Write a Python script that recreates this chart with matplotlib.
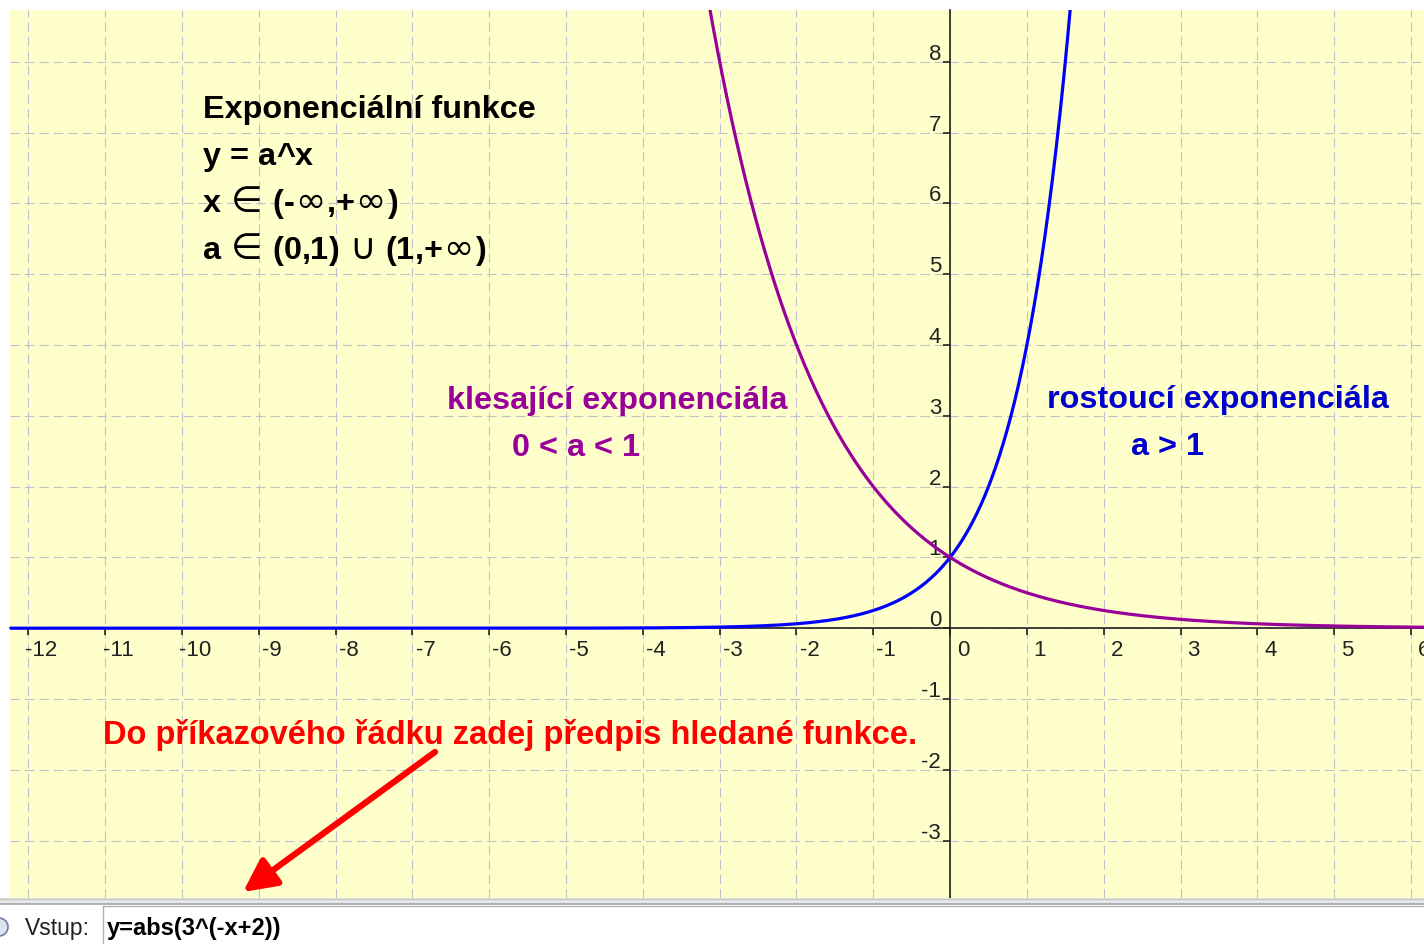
import numpy as np
import matplotlib
matplotlib.use('Agg')
import matplotlib.pyplot as plt
from matplotlib.transforms import offset_copy
from matplotlib.patches import Rectangle, Circle

plt.rcParams['font.family'] = ['Liberation Sans', 'DejaVu Sans']

W, H = 1424, 944

# function bases of the two curves
rising_base = 4
falling_base = 0.5

# visible window and ticks
x_range = (-12.24, 6.17)
y_range = (-3.81, 8.73)
x_ticks = list(range(-12, 7))
y_ticks = list(range(-3, 9))

# texts
info_lines = ['Exponenciální funkce', 'y = a^x', 'x ∈ (-∞,+∞)', 'a ∈ (0,1) ∪ (1,+∞)']
falling_label = ['klesající exponenciála', '0 < a < 1']
rising_label = ['rostoucí exponenciála', 'a > 1']
hint = 'Do příkazového řádku zadej předpis hledané funkce.'
input_label = 'Vstup:'
input_text = 'y=abs(3^(-x+2))'
symbols = '∈∪∞'

fig = plt.figure(figsize=(W / 100, H / 100), dpi=100)
fig.patch.set_facecolor('white')

ax = fig.add_axes([10 / W, 46 / H, 1414 / W, 888 / H])
ax.set_facecolor('#ffffcc')
ax.set_xlim(*x_range)
ax.set_ylim(*y_range)
ax.set_xticks(x_ticks)
ax.set_yticks(y_ticks)
ax.set_axisbelow(True)
ax.grid(True, color='#c0c0cc', lw=0.8, ls=(0, (8.5, 4.5)))
for s in ['top', 'right']:
    ax.spines[s].set_visible(False)
for s in ['left', 'bottom']:
    ax.spines[s].set_position(('data', 0))
    ax.spines[s].set_linewidth(1.2)
    ax.spines[s].set_color('#222222')
ax.tick_params(direction='out', length=5, width=1.2, color='#222222',
               labelbottom=False, labelleft=False)

# axis numbers, GeoGebra style (shifted from the ticks)
xt = offset_copy(ax.transData, fig=fig, x=13, y=-28, units='dots')
for t in x_ticks:
    ax.text(t, 0, str(t), transform=xt, ha='center', va='baseline',
            fontsize=16, color='#222222', clip_on=True)
yt = offset_copy(ax.transData, fig=fig, x=-9, y=2, units='dots')
for t in y_ticks:
    ax.text(0, t, str(t), transform=yt, ha='right', va='baseline',
            fontsize=16, color='#222222', clip_on=True)

xs = np.linspace(x_range[0], x_range[1], 1500)
ax.plot(xs, rising_base ** xs, color='#0000ff', lw=2.3, zorder=4)
ax.plot(xs, falling_base ** xs, color='#990099', lw=2.3, zorder=4)

# overlay in pixel coordinates for texts, arrow and input bar
ov = fig.add_axes([0, 0, 1, 1])
ov.set_xlim(0, W)
ov.set_ylim(H, 0)
ov.axis('off')
renderer = fig.canvas.get_renderer()


def run_text(x, y, s, size, color):
    # math signs come from DejaVu Sans, letters from Liberation Sans bold
    for ch in s:
        if ch in symbols:
            x += 1
            t = ov.text(x, y, ch, fontsize=size * 1.12, family='DejaVu Sans',
                        color=color, va='baseline')
            x += t.get_window_extent(renderer).width + 1
        else:
            t = ov.text(x, y, ch, fontsize=size, fontweight='bold',
                        color=color, va='baseline')
            x += t.get_window_extent(renderer).width


for i, line in enumerate(info_lines):
    if i == 0:
        ov.text(203, 118, line, fontsize=23.3, fontweight='bold', color='black', va='baseline')
    else:
        run_text(203, 118 + 47 * i, line, 23.3, 'black')

ov.text(447, 409, falling_label[0], fontsize=23.3, fontweight='bold', color='#990099', va='baseline')
ov.text(512, 456, falling_label[1], fontsize=23.3, fontweight='bold', color='#990099', va='baseline')
ov.text(1047, 408, rising_label[0], fontsize=23.3, fontweight='bold', color='#0000cc', va='baseline')
ov.text(1131, 455, rising_label[1], fontsize=23.3, fontweight='bold', color='#0000cc', va='baseline')
ov.text(103, 744, hint, fontsize=23.5, fontweight='bold', color='#ff0000', va='baseline')

ov.annotate('', xy=(243, 892), xytext=(435, 752),
            arrowprops=dict(arrowstyle='-|>,head_length=1.0,head_width=0.5',
                            lw=4.5, color='#ff0000', mutation_scale=20,
                            shrinkA=0, shrinkB=0))

# input bar
ov.add_patch(Rectangle((0, 898), W, 46, fc='white', ec='none'))
ov.add_patch(Rectangle((0, 898), W, 6, fc='#e6e6e6', ec='none'))
ov.plot([0, W], [898.5, 898.5], color='#c4c4c4', lw=1)
ov.plot([0, W], [904, 904], color='#a4a4ae', lw=1.2)
ov.plot([103, 103], [906, H], color='#b4b4b4', lw=1)
ov.plot([103, W], [906, 906], color='#b4b4b4', lw=1)
ov.add_patch(Circle((-1, 927), 9, fc='#dde4f0', ec='#6a7fa8', lw=1.2))
ov.text(25, 935, input_label, fontsize=16.5, color='#222222', va='baseline')
ov.text(107, 935, input_text, fontsize=17, fontweight='bold', color='black', va='baseline')

fig.savefig('out.png', dpi=100)
